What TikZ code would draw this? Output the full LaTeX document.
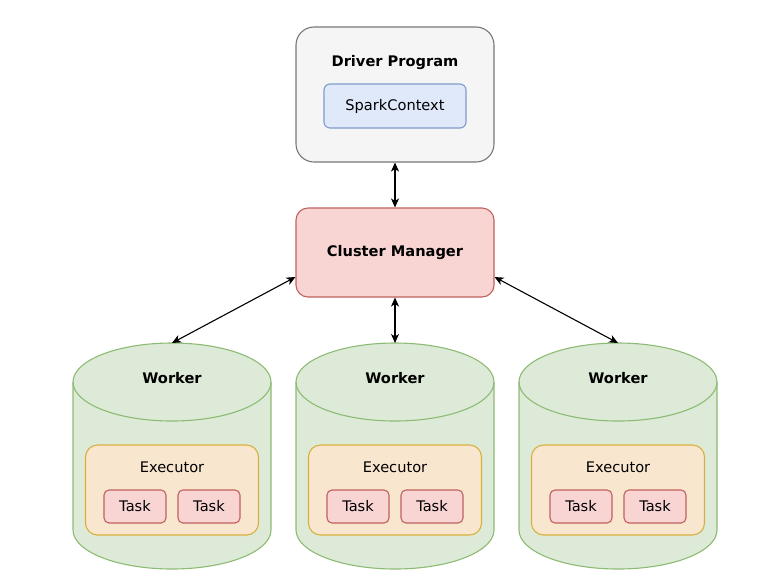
\documentclass[tikz,border=0pt]{standalone}
\usepackage{fontspec}
\setmainfont{DejaVu Sans}
\usetikzlibrary{arrows.meta}
\definecolor{grayfill}{HTML}{F5F5F5}
\definecolor{grayline}{HTML}{777777}
\definecolor{bluefill}{HTML}{DFE9FA}
\definecolor{blueline}{HTML}{7E9CC9}
\definecolor{redfill}{HTML}{F8D5D3}
\definecolor{redline}{HTML}{C0615D}
\definecolor{greenfill}{HTML}{DDEAD7}
\definecolor{greenline}{HTML}{8DBB73}
\definecolor{orangefill}{HTML}{F9E6CF}
\definecolor{orangeline}{HTML}{D9AF3E}
\tikzset{
  box/.style={draw, line width=1.1pt, inner sep=0pt, align=center, font=\fontsize{14.6}{17}\selectfont},
  driverbox/.style={box, draw=grayline, fill=grayfill, rounded corners=18pt, minimum width=198pt, minimum height=135pt},
  ctxbox/.style={box, draw=blueline, fill=bluefill, rounded corners=6pt, minimum width=142pt, minimum height=44pt},
  cmbox/.style={box, draw=redline, fill=redfill, rounded corners=12pt, minimum width=198pt, minimum height=89pt},
  execbox/.style={box, draw=orangeline, fill=orangefill, rounded corners=12pt, minimum width=173pt, minimum height=90pt},
  taskbox/.style={box, draw=redline, fill=redfill, rounded corners=5pt, minimum width=62pt, minimum height=33pt},
  title/.style={inner sep=0pt, font=\fontsize{14.6}{17}\selectfont\bfseries},
  plain/.style={inner sep=0pt, font=\fontsize{14.6}{17}\selectfont},
  conn/.style={line width=1.1pt, {Stealth[length=9pt,width=8pt,inset=2.5pt]}-{Stealth[length=9pt,width=8pt,inset=2.5pt]}},
  cylfill/.style={fill=greenfill},
  cylline/.style={draw=greenline, line width=1.1pt}
}
\begin{document}
\begin{tikzpicture}[x=1pt,y=-1pt]
\useasboundingbox (0,0) rectangle (783,582);
% Driver
\node[driverbox] (driver) at (395,94.5) {};
\node[title] (drivertitle) at (395,63) {Driver Program};
\node[ctxbox] (ctx) at (395,106) {SparkContext};
% Cluster manager
\node[cmbox] (cm) at (395,252.5) {\bfseries Cluster Manager};
% Workers
\foreach \cx/\n in {172/1, 395/2, 618/3} {
  \path[cylfill, cylline] (\cx-99,382) -- (\cx-99,530)
     arc[start angle=180, end angle=0, x radius=99, y radius=39]
     -- (\cx+99,382)
     arc[start angle=0, end angle=-180, x radius=99, y radius=39] -- cycle;
  \draw[cylline] (\cx-99,382) arc[start angle=180, end angle=0, x radius=99, y radius=39];
  \coordinate (wtop\n) at (\cx,343);
  \node[title] (wtitle\n) at (\cx,378) {Worker};
  \node[execbox] (exec\n) at (\cx,490) {};
  \node[plain] (exectitle\n) at (\cx,467) {Executor};
  \node[taskbox] (taskA\n) at (\cx-37,506.5) {Task};
  \node[taskbox] (taskB\n) at (\cx+37,506.5) {Task};
}
% Connectors
\draw[conn] (driver.south) -- (cm.north);
\draw[conn] (cm.south) -- (wtop2);
\draw[conn] ([yshift=-24.5pt]cm.west) -- (wtop1);
\draw[conn] ([yshift=-24.5pt]cm.east) -- (wtop3);
\end{tikzpicture}
\end{document}
